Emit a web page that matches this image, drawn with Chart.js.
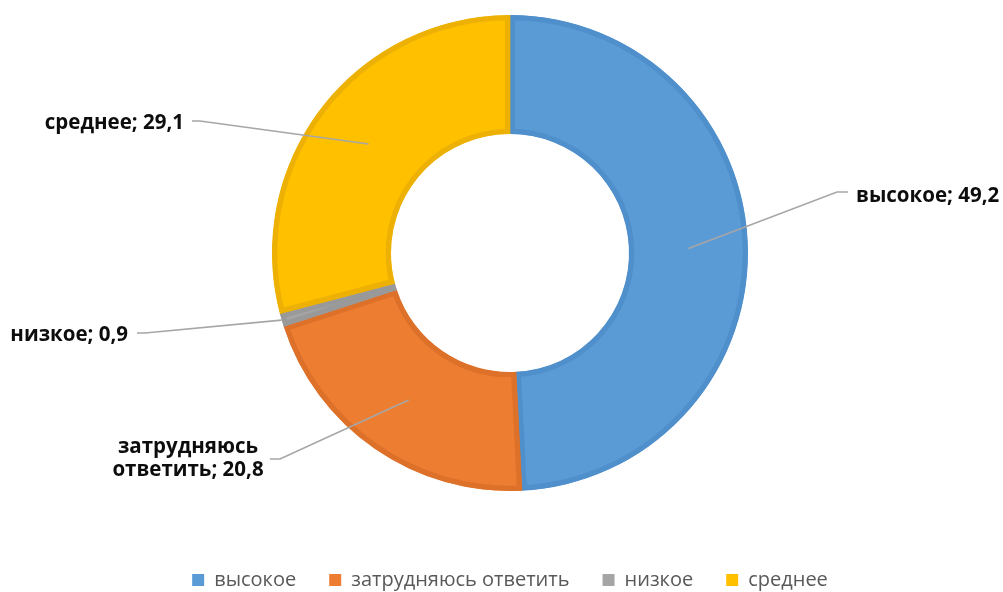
<!DOCTYPE html>
<html>
<head>
<meta charset="utf-8">
<script src="https://cdn.jsdelivr.net/npm/chart.js@4/dist/chart.umd.min.js"></script>
<style>
  html, body { margin: 0; padding: 0; background: #fff; }
  #wrap { width: 1003px; height: 592px; position: relative; }
</style>
</head>
<body>
<div id="wrap"><canvas id="donut"></canvas></div>
<script>
const categories = ['высокое', 'затрудняюсь ответить', 'низкое', 'среднее'];
const values = [49.2, 20.8, 0.9, 29.1];
const fillColors = ['#5B9BD5', '#ED7D31', '#A5A5A5', '#FFC000'];
const edgeColors = ['#4F8FCB', '#DD7129', '#999999', '#EDB004'];

// where each callout goes, relative to the donut centre
const callouts = [
    {ex: 327, ey: -61, hx: 338, tx: 346, ty: -57, align: 'left'},
    {ex: -230, ey: 206, hx: -240, tx: -322, ty: 206, align: 'center', wrap: true},
    {ex: -365, ey: 80, hx: -373, tx: -382, ty: 82, align: 'right'},
    {ex: -310, ey: -132, hx: -318, tx: -326, ty: -130, align: 'right'}
];

const total = values.reduce((a, b) => a + b, 0);
const fmt = v => v.toFixed(1).replace('.', ',');

const calloutPlugin = {
    id: 'callouts',
    afterDatasetsDraw(chart) {
        const ctx = chart.ctx;
        const meta = chart.getDatasetMeta(0);
        meta.data.forEach((arc, i) => {
            const p = arc.getProps(['x', 'y', 'startAngle', 'endAngle', 'innerRadius', 'outerRadius'], true);
            const mid = (p.startAngle + p.endAngle) / 2;
            const r = values[i] / total < 0.02 ? p.outerRadius : (p.innerRadius + p.outerRadius) / 2;
            const c = callouts[i];
            ctx.save();
            ctx.strokeStyle = '#A6A6A6';
            ctx.lineWidth = 1.6;
            ctx.beginPath();
            ctx.moveTo(p.x + Math.cos(mid) * r, p.y + Math.sin(mid) * r);
            ctx.lineTo(p.x + c.ex, p.y + c.ey);
            ctx.lineTo(p.x + c.hx, p.y + c.ey);
            ctx.stroke();

            let lines = [categories[i] + '; ' + fmt(values[i])];
            if (c.wrap) {
                const cut = categories[i].indexOf(' ');
                lines = [categories[i].slice(0, cut), categories[i].slice(cut + 1) + '; ' + fmt(values[i])];
            }
            ctx.fillStyle = '#0d0d0d';
            ctx.font = 'bold 20.5px "Open Sans"';
            ctx.textAlign = c.align;
            ctx.textBaseline = 'middle';
            const lh = 23;
            const y0 = p.y + c.ty - (lines.length - 1) * lh / 2;
            lines.forEach((t, k) => ctx.fillText(t, p.x + c.tx, y0 + k * lh));
            ctx.restore();
        });
    }
};

new Chart(document.getElementById('donut'), {
    type: 'doughnut',
    data: {
        labels: categories,
        datasets: [{
            data: values,
            backgroundColor: fillColors,
            borderColor: edgeColors,
            borderWidth: 5,
            borderAlign: 'inner'
        }]
    },
    options: {
        responsive: true,
        maintainAspectRatio: false,
        animation: false,
        cutout: '50%',
        radius: 238,
        layout: {padding: {top: 15, left: 17, right: 0, bottom: -8}},
        plugins: {
            tooltip: {enabled: false},
            legend: {
                position: 'bottom',
                // blank title only pushes the legend row down, away from the ring
                title: {display: true, text: ' ', color: 'rgba(0,0,0,0)', font: {size: 12, lineHeight: 1.2}, padding: {top: 31.6, bottom: 0}},
                labels: {
                    boxWidth: 12,
                    boxHeight: 12,
                    padding: 33,
                    color: '#595959',
                    font: {family: '"Open Sans"', size: 20},
                    generateLabels(chart) {
                        const items = Chart.overrides.doughnut.plugins.legend.labels.generateLabels(chart);
                        items.forEach(it => { it.strokeStyle = it.fillStyle; it.lineWidth = 0; });
                        return items;
                    }
                }
            }
        }
    },
    plugins: [calloutPlugin]
});
</script>
</body>
</html>
